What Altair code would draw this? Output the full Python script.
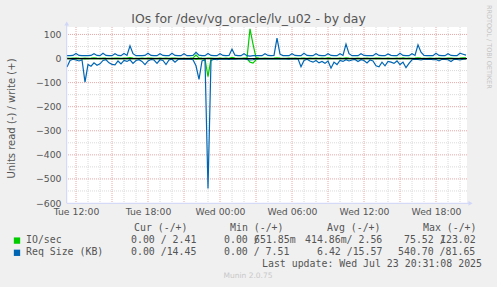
import altair as alt
import pandas as pd

# ---------------- data (5-min rrd data at 15-min spacing) -------------
START_HOUR = 11.25      # Tue 11:15, expressed as hours since Tue 00:00
STEP_HOURS = 0.25

IO_WRITE = [1.5, 1.2, 1.5, 2, 1.5, 1.3, 1.5, 1.2, 1.5, 3,
            1.5, 1.2, 2, 1.5, 1.3, 1.2, 1.5, 1.4, 1.2, 2,
            1.5, 4, 1.5, 1.2, 1.3, 1.5, 1.2, 2, 1.5, 1.2,
            1.3, 1.5, 1.2, 1.4, 1.3, 2, 1.5, 1.2, 1.3, 1.2,
            1.3, 1.5, 2, 15, 2, 1.5, 1.3, 2, 1.5, 1.2,
            1.3, 1.5, 1.2, 1.5, 1.3, 5, 1.5, 1.2, 1.3, 2,
            2, 123, 60, 4, 1.5, 1.2, 1.5, 1.3, 1.2, 1.5,
            3, 1.5, 1.2, 1.3, 1.5, 1.2, 1.4, 1.3, 1.5, 2,
            1.3, 1.5, 1.2, 1.4, 1.3, 1.5, 1.2, 3, 1.5, 1.2,
            1.3, 1.5, 1.2, 3, 1.5, 1.3, 1.2, 1.5, 1.3, 1.2,
            1.5, 1.3, 1.2, 1.5, 1.4, 1.2, 1.3, 1.5, 1.2, 1.3,
            1.5, 1.2, 3, 1.3, 1.5, 1.2, 1.4, 3, 1.5, 1.3,
            1.2, 1.5, 1.3, 1.2, 1.5, 1.3, 1.2, 1.4, 1.5, 1.3,
            1.2, 1.5, 3, 2.4]

IO_READ = [0.5, 0.3, 0.2, 0.3, 0.4, 0.2, 1.5, 0.5, 0.8, 0.4,
           0.6, 0.5, 0.3, 0.2, 0.4, 0.5, 0.6, 0.3, 0.5, 0.2,
           0.3, 0.2, 0.4, 0.3, 0.2, 0.3, 0.5, 0.3, 0.2, 0.2,
           0.4, 0.2, 0.3, 0.5, 0.2, 0.1, 0.3, 0.1, 0.1, 0.1,
           0.1, 0.1, 0.2, 3, 2, 0.5, 2, 75.5, 1, 0.3,
           0.2, 0.1, 0.1, 0.1, 0.1, 0.1, 0.1, 0.1, 0.1, 0.1,
           0.5, 15, 19, 5, 0.3, 0.1, 0.1, 0.1, 0.1, 0.1,
           0.1, 0.1, 0.1, 0.1, 0.1, 0.1, 0.1, 0.1, 0.8, 0.2,
           0.1, 0.3, 0.5, 0.2, 0.4, 0.3, 0.5, 0.2, 0.9, 0.4,
           0.6, 0.2, 0.3, 0.1, 0.2, 0.1, 0.1, 0.3, 0.1, 0.2,
           0.4, 0.1, 0.2, 0.7, 0.8, 0.3, 0.7, 0.3, 0.4, 0.5,
           0.2, 0.6, 0.3, 0.9, 0.5, 0.1, 0.1, 0.1, 0.1, 0.1,
           0.1, 0.1, 0.1, 0.1, 0.2, 0.1, 0.1, 0.1, 0.3, 0.1,
           0.1, 0.1, 0.1, 0.0]

REQ_WRITE = [12, 12, 13, 21, 13, 12, 12, 12, 13, 20,
             13, 12, 22, 13, 12, 12, 20, 13, 12, 21,
             13, 53, 20, 12, 12, 12, 13, 22, 13, 12,
             12, 20, 13, 12, 12, 22, 13, 12, 12, 20,
             12, 12, 13, 26, 14, 12, 12, 21, 13, 12,
             12, 20, 13, 12, 13, 39, 14, 12, 12, 20,
             12, 10, 12, 12, 12, 12, 20, 13, 12, 13,
             85, 18, 12, 12, 12, 20, 13, 12, 12, 22,
             13, 12, 12, 20, 13, 12, 12, 20, 13, 12,
             12, 20, 13, 60, 20, 12, 12, 12, 20, 13,
             12, 12, 12, 21, 13, 12, 12, 19, 13, 12,
             12, 22, 13, 12, 12, 20, 13, 57, 26, 13,
             12, 12, 12, 22, 13, 12, 12, 20, 13, 12,
             12, 22, 18, 14]

REQ_READ = [35, 8, 3, 6, 10, 5, 98, 25, 32, 18,
            28, 22, 8, 5, 18, 24, 26, 10, 22, 8,
            12, 5, 20, 8, 5, 12, 25, 10, 4, 6,
            20, 5, 8, 25, 6, 3, 15, 4, 2, 3,
            2, 3, 5, 30, 87, 10, 5, 540, 8, 3,
            5, 2, 3, 2, 4, 2, 3, 2, 1, 2,
            4, 6, 5, 2, 1, 2, 1, 2, 1, 2,
            1, 2, 1, 2, 3, 1, 2, 1, 34, 8,
            3, 10, 15, 8, 18, 12, 20, 10, 40, 15,
            25, 8, 12, 5, 10, 6, 4, 12, 5, 8,
            18, 6, 10, 30, 34, 15, 30, 12, 15, 20,
            10, 25, 15, 38, 20, 5, 3, 4, 6, 3,
            4, 3, 5, 4, 10, 3, 4, 5, 12, 3,
            4, 6, 3, 2]

X_TICKS = [12, 18, 24, 30, 36, 42]
Y_TICKS = [100, 0, -100, -200, -300, -400, -500, -600]

TITLE = "IOs for /dev/vg_oracle/lv_u02 - by day"
Y_TITLE = "Units read (-) / write (+)"
SIDE_TEXT = "RRDTOOL / TOBI OETIKER"
SERIES_NAMES = ["IO/sec", "Req Size (KB)"]
HEADERS = ["Cur (-/+)", "Min (-/+)", "Avg (-/+)", "Max (-/+)"]
ROW1 = ["0.00 / 2.41", "0.00 /", "651.85m", "414.86m/ 2.56", "75.52 /", "123.02"]
ROW2 = ["0.00 /14.45", "0.00 / 7.51", "6.42 /15.57", "540.70 /81.65"]
LAST_UPDATE = "Last update: Wed Jul 23 20:31:08 2025"
FOOTER = "Munin 2.0.75"

# ---------------- layout / style -------------
W, H = 400, 176
PL, PT = 67, 27
X_DOMAIN = [11.25, 44.5833]
Y_DOMAIN = [-600, 131]
GREEN = "#00cc00"
BLUE = "#0066b3"
AXIS_COL = "#CFD6F8"
FONT_COL = "#555555"
SANS = "DejaVu Sans"
MONO = "DejaVu Sans Mono"

xs = alt.Scale(domain=X_DOMAIN, nice=False, zero=False)
ys = alt.Scale(domain=Y_DOMAIN, nice=False, zero=False)

N = len(IO_WRITE)
hours = [START_HOUR + STEP_HOURS * i for i in range(N)]

x_axis = alt.Axis(
    values=X_TICKS, grid=False, domain=False, ticks=False, labelFlush=False,
    labelOverlap=False, labelFont=SANS, labelFontSize=9.3, labelColor=FONT_COL,
    labelPadding=4, title=None,
    labelExpr="(datum.value < 24 ? 'Tue ' : 'Wed ') + (datum.value % 24 < 10 ? '0' : '') + (datum.value % 24) + ':00'",
)
y_axis = alt.Axis(
    values=Y_TICKS, grid=False, domain=False, ticks=False, labelFont=SANS,
    labelFontSize=9.3, labelColor=FONT_COL, labelPadding=6, title=Y_TITLE,
    titleFont=SANS, titleFontSize=10, titleColor=FONT_COL, titleFontWeight="normal",
    titleAngle=270, titleX=-56, titleY=91, titleAlign="center", titleBaseline="middle",
)


def series(vals, sign):
    return pd.DataFrame({"t": hours, "v": [sign * v for v in vals]})


def vrules(vals, color):
    return alt.Chart(pd.DataFrame({"t": vals})).mark_rule(
        color=color, strokeDash=[1, 1], strokeWidth=1
    ).encode(x=alt.X("t:Q", scale=xs, axis=x_axis))


def hrules(vals, color):
    return alt.Chart(pd.DataFrame({"v": vals})).mark_rule(
        color=color, strokeDash=[1, 1], strokeWidth=1
    ).encode(y=alt.Y("v:Q", scale=ys, axis=y_axis))


def text(s, x, y, font=MONO, size=9.9, color=FONT_COL, align="left", angle=0):
    kw = dict(font=font, fontSize=size, color=color, align=align, baseline="middle")
    if angle:
        kw["angle"] = angle
    return alt.Chart(pd.DataFrame({"s": [s]})).mark_text(**kw).encode(
        text="s:N", x=alt.value(x - PL), y=alt.value(y - PT)
    )


def line(df, color):
    return alt.Chart(df).mark_line(color=color, strokeWidth=1.2).encode(
        x=alt.X("t:Q", scale=xs, axis=x_axis),
        y=alt.Y("v:Q", scale=ys, axis=y_axis),
    )


minor_h = [h for h in range(12, 45) if h % 3 != 0]
major_h = list(range(12, 45, 3))
minor_y = list(range(-550, 101, 100))
major_y = list(range(-500, 101, 100))

layers = [
    vrules(minor_h, "#dadada"),
    hrules(minor_y, "#dadada"),
    vrules(major_h, "#eaa8a8"),
    hrules(major_y, "#eaa8a8"),
    line(series(IO_READ, -1), GREEN),
    line(series(IO_WRITE, 1), GREEN),
    line(series(REQ_READ, -1), BLUE),
    line(series(REQ_WRITE, 1), BLUE),
    alt.Chart(pd.DataFrame({"v": [0]})).mark_rule(color="#000000", strokeWidth=1.2).encode(
        y=alt.Y("v:Q", scale=ys, axis=y_axis)),
    # axis lines with arrows
    alt.Chart(pd.DataFrame({"a": [0]})).mark_rule(color=AXIS_COL, strokeWidth=1).encode(
        x=alt.value(-0.3), y=alt.value(H), y2=alt.value(-3)),
    alt.Chart(pd.DataFrame({"a": [0]})).mark_rule(color=AXIS_COL, strokeWidth=1).encode(
        x=alt.value(-0.3), x2=alt.value(402), y=alt.value(H + 0.3)),
    alt.Chart(pd.DataFrame({"a": [0]})).mark_point(
        shape="triangle-up", filled=True, color=AXIS_COL, size=22, opacity=1).encode(
        x=alt.value(-0.3), y=alt.value(-3.5)),
    alt.Chart(pd.DataFrame({"a": [0]})).mark_point(
        shape="triangle-right", filled=True, color=AXIS_COL, size=22, opacity=1).encode(
        x=alt.value(403.5), y=alt.value(H + 0.3)),
    # legend squares
    alt.Chart(pd.DataFrame({"a": [0]})).mark_square(color=GREEN, size=40, opacity=1).encode(
        x=alt.value(17 - PL), y=alt.value(240.6 - PT)),
    alt.Chart(pd.DataFrame({"a": [0]})).mark_square(color=BLUE, size=40, opacity=1).encode(
        x=alt.value(17 - PL), y=alt.value(252.8 - PT)),
    # titles and texts
    text(TITLE, 248.5, 19, font=SANS, size=12.4, align="center"),
    text(SIDE_TEXT, 488.5, 5, font=SANS, size=6.5, color="#c4c4c4", angle=90),
    text(HEADERS[0], 134, 227.5),
    text(HEADERS[1], 230, 227.5),
    text(HEADERS[2], 327, 227.5),
    text(HEADERS[3], 423, 227.5),
    text(SERIES_NAMES[0], 26, 240),
    text(SERIES_NAMES[1], 26, 252.3),
    text(ROW1[0], 131, 240),
    text(ROW1[1], 224, 240),
    text(ROW1[2], 254, 240),
    text(ROW1[3], 305, 240),
    text(ROW1[4], 404, 240),
    text(ROW1[5], 440, 240),
    text(ROW2[0], 131, 252.3),
    text(ROW2[1], 224, 252.3),
    text(ROW2[2], 317, 252.3),
    text(ROW2[3], 398, 252.3),
    text(LAST_UPDATE, 262, 263.6),
    text(FOOTER, 248, 276, font=SANS, size=7.5, color="#c8c8c8", align="center"),
]

chart = alt.layer(*layers).properties(
    width=W, height=H, background="#f0f0f0",
    padding={"left": PL, "top": PT, "right": 497 - PL - W, "bottom": 287 - PT - H},
    autosize=alt.AutoSizeParams(type="none"),
).configure_view(stroke=None, fill="#ffffff")

chart.save("out.html", embed_options={"renderer": "svg", "actions": False})
